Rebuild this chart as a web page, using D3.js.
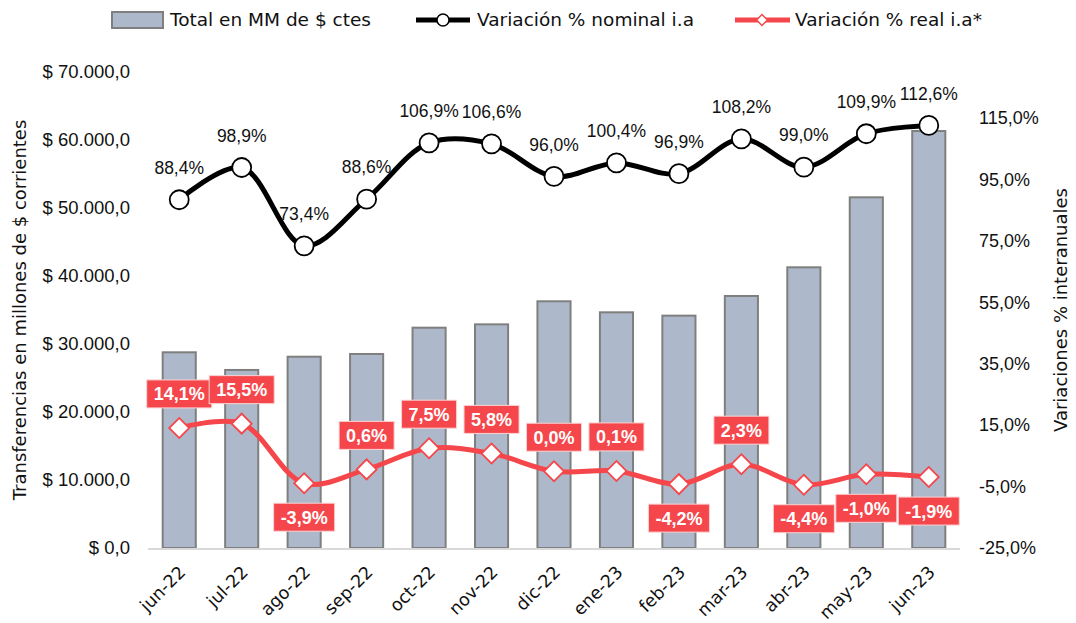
<!DOCTYPE html>
<html>
<head>
<meta charset="utf-8">
<script src="https://cdn.jsdelivr.net/npm/d3@7"></script>
<style>
  body { margin: 0; background: #fff; }
  svg { display: block; }
  .num { font-family: "Liberation Sans", Arial, sans-serif; }
  .txt { font-family: "DejaVu Sans", sans-serif; }
</style>
</head>
<body>
<svg id="chart" width="1076" height="623"></svg>
<script>
// datos
const months = ['jun-22', 'jul-22', 'ago-22', 'sep-22', 'oct-22', 'nov-22', 'dic-22',
                'ene-23', 'feb-23', 'mar-23', 'abr-23', 'may-23', 'jun-23'];
const totalMM = [28780, 26180, 28130, 28530, 32400, 32890, 36280,
                 34660, 34170, 37060, 41280, 51570, 61320];
const nominal = [88.4, 98.9, 73.4, 88.6, 106.9, 106.6, 96.0, 100.4, 96.9, 108.2, 99.0, 109.9, 112.6];
const real = [14.1, 15.5, -3.9, 0.6, 7.5, 5.8, 0.0, 0.1, -4.2, 2.3, -4.4, -1.0, -1.9];
// posición de etiqueta real: arriba (-1) o abajo (+1)
const realSide = [-1, -1, 1, -1, -1, -1, -1, -1, 1, -1, 1, 1, 1];
const leftTicks = [0, 10000, 20000, 30000, 40000, 50000, 60000, 70000];
const rightTicks = [-25, -5, 15, 35, 55, 75, 95, 115];
const legendLabels = ['Total en MM de $ ctes', 'Variación % nominal i.a', 'Variación % real i.a*'];

const BAR_FILL = '#adb9ca', BAR_STROKE = '#7f7f7f', RED = '#f5474b';

const svg = d3.select('#chart');
const plot = { left: 148, right: 960, top: 72, bottom: 548 };

const locale = d3.formatLocale({ decimal: ',', thousands: '.', grouping: [3], currency: ['$', ''], minus: '-' });
const fmtMoney = v => '$ ' + locale.format(',.1f')(v);
const fmtPct = v => locale.format('.1f')(v) + '%';

const x = d3.scaleBand().domain(months).range([plot.left, plot.right])
    .paddingInner(0.47).paddingOuter(0.235);
const yL = d3.scaleLinear().domain([0, 70000]).range([plot.bottom, plot.top]);
const yR = d3.scaleLinear().domain([-25, 130]).range([plot.bottom, plot.top]);
const cx = m => x(m) + x.bandwidth() / 2;

// barras
svg.append('g').selectAll('rect').data(months).join('rect')
    .attr('x', m => x(m))
    .attr('y', (m, i) => yL(totalMM[i]))
    .attr('width', x.bandwidth())
    .attr('height', (m, i) => yL(0) - yL(totalMM[i]))
    .attr('fill', BAR_FILL)
    .attr('stroke', BAR_STROKE)
    .attr('stroke-width', 2);

// línea base
svg.append('line')
    .attr('x1', plot.left).attr('x2', plot.right)
    .attr('y1', plot.bottom + 1).attr('y2', plot.bottom + 1)
    .attr('stroke', '#d9d9d9').attr('stroke-width', 2);

// ejes
const axL = svg.append('g').attr('transform', `translate(${plot.left - 18},0)`)
    .call(d3.axisLeft(yL).tickValues(leftTicks).tickFormat(fmtMoney).tickSize(0).tickPadding(0));
const axR = svg.append('g').attr('transform', `translate(${plot.right + 19},0)`)
    .call(d3.axisRight(yR).tickValues(rightTicks).tickFormat(fmtPct).tickSize(0).tickPadding(0));
[axL, axR].forEach(a => {
    a.select('.domain').remove();
    a.selectAll('text').attr('class', 'num').attr('font-size', 18).attr('fill', '#111');
});
axL.selectAll('text').attr('font-size', 18.5);

const axB = svg.append('g').attr('transform', `translate(0,${plot.bottom})`)
    .call(d3.axisBottom(x).tickSize(0).tickPadding(0));
axB.select('.domain').remove();
axB.selectAll('text')
    .attr('class', 'txt')
    .attr('font-size', 17.5)
    .attr('fill', '#111')
    .attr('text-anchor', 'end')
    .attr('dy', '0.35em')
    .attr('transform', 'translate(3,21) rotate(-45)');

// títulos de ejes
svg.append('text').attr('class', 'txt')
    .attr('transform', 'translate(26,310) rotate(-90)')
    .attr('text-anchor', 'middle').attr('font-size', 18).attr('fill', '#111')
    .text('Transferencias en millones de $ corrientes');
svg.append('text').attr('class', 'txt')
    .attr('transform', 'translate(1067,310) rotate(-90)')
    .attr('text-anchor', 'middle').attr('font-size', 18).attr('fill', '#111')
    .text('Variaciones % interanuales');

// líneas
const lineNom = d3.line().x((d, i) => cx(months[i])).y(d => yR(d)).curve(d3.curveCatmullRom.alpha(0.5));
svg.append('path').datum(nominal)
    .attr('d', lineNom).attr('fill', 'none')
    .attr('stroke', '#000').attr('stroke-width', 5);
svg.append('path').datum(real)
    .attr('d', lineNom).attr('fill', 'none')
    .attr('stroke', RED).attr('stroke-width', 5);

// marcadores
svg.append('g').selectAll('circle').data(nominal).join('circle')
    .attr('cx', (d, i) => cx(months[i])).attr('cy', d => yR(d))
    .attr('r', 9.5).attr('fill', '#fff').attr('stroke', '#000').attr('stroke-width', 1.8);

const diamond = d3.symbol().type(d3.symbolSquare).size(200);
svg.append('g').selectAll('path').data(real).join('path')
    .attr('d', diamond)
    .attr('transform', (d, i) => `translate(${cx(months[i])},${yR(d)}) rotate(45)`)
    .attr('fill', '#fff').attr('stroke', RED).attr('stroke-width', 1.8);

// etiquetas nominal
svg.append('g').selectAll('text').data(nominal).join('text')
    .attr('class', 'num')
    .attr('x', (d, i) => cx(months[i]))
    .attr('y', d => yR(d) - 32)
    .attr('dy', '0.35em')
    .attr('text-anchor', 'middle').attr('font-size', 17.5).attr('fill', '#111')
    .text(fmtPct);

// etiquetas real
const realLbl = svg.append('g');
real.forEach((v, i) => {
    const px = cx(months[i]);
    const py = yR(v) + realSide[i] * 34;
    const g = realLbl.append('g');
    const rect = g.append('rect');
    const t = g.append('text').attr('class', 'num')
        .attr('x', px).attr('y', py).attr('dy', '0.36em')
        .attr('text-anchor', 'middle').attr('font-size', 18)
        .attr('font-weight', 'bold').attr('fill', '#fff')
        .text(fmtPct(v));
    const w = t.node().getComputedTextLength() + 14;
    rect.attr('x', px - w / 2).attr('y', py - 14).attr('width', w).attr('height', 28)
        .attr('fill', RED).attr('stroke', '#fbd3d4').attr('stroke-width', 1);
});

// leyenda
const lg = svg.append('g').attr('class', 'txt');
lg.append('rect').attr('x', 112).attr('y', 12).attr('width', 51).attr('height', 16)
    .attr('fill', BAR_FILL).attr('stroke', BAR_STROKE).attr('stroke-width', 2);
lg.append('line').attr('x1', 416).attr('x2', 470).attr('y1', 20).attr('y2', 20)
    .attr('stroke', '#000').attr('stroke-width', 5);
lg.append('circle').attr('cx', 443).attr('cy', 20).attr('r', 6)
    .attr('fill', '#fff').attr('stroke', '#000').attr('stroke-width', 1.5);
lg.append('line').attr('x1', 735).attr('x2', 790).attr('y1', 20).attr('y2', 20)
    .attr('stroke', RED).attr('stroke-width', 5);
lg.append('path').attr('d', d3.symbol().type(d3.symbolSquare).size(60))
    .attr('transform', 'translate(762,20) rotate(45)')
    .attr('fill', '#fff').attr('stroke', RED).attr('stroke-width', 1.5);
[[170, legendLabels[0]], [477, legendLabels[1]], [795, legendLabels[2]]].forEach(([lx, s]) => {
    lg.append('text').attr('x', lx).attr('y', 20).attr('dy', '0.35em')
        .attr('font-size', 18.5).attr('fill', '#111').text(s);
});
</script>
</body>
</html>
